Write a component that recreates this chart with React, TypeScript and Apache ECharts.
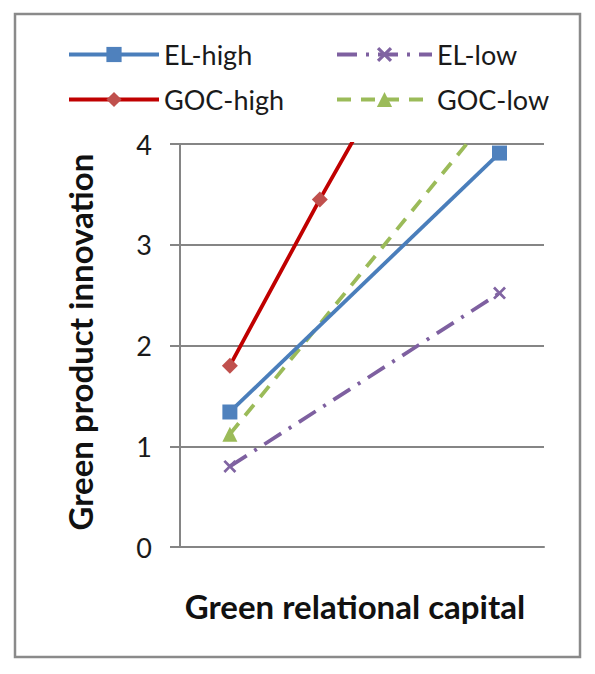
import React, { useEffect, useRef } from "react";
import * as echarts from "echarts";

const seriesNames = ["EL-high", "EL-low", "GOC-high", "GOC-low"];
// x positions: -1 = low green relational capital, 1 = high
const elHigh: [number, number][] = [[-1, 1.34], [1, 3.91]];
const elLow: [number, number][] = [[-1, 0.8], [1, 2.52]];
const gocHigh: [number, number][] = [[-1, 1.8], [-0.333, 3.45], [1, 6.6]];
const gocLow: [number, number][] = [[-1, 1.12], [1, 4.4]];
const yTicks = [0, 1, 2, 3, 4];

const xTitle = "Green relational capital";
const yTitle = "Green product innovation";

const FONT = "Lato, 'Open Sans', sans-serif";
const CROSS =
  "path://M0,1.5L1.5,0L5,3.5L8.5,0L10,1.5L6.5,5L10,8.5L8.5,10L5,6.5L1.5,10L0,8.5L3.5,5Z";

export default function App() {
  const ref = useRef<HTMLDivElement>(null);
  useEffect(() => {
    if (!ref.current) return;
    const chart = echarts.init(ref.current, undefined, { renderer: "svg" });
    const legendBase = {
      orient: "horizontal",
      padding: 0,
      itemWidth: 90,
      itemHeight: 19,
      itemGap: 0,
      lineStyle: { width: 4 },
      textStyle: { fontFamily: FONT, fontSize: 27, color: "#1a1a1a" },
    };
    chart.setOption({
      animation: false,
      backgroundColor: "#ffffff",
      legend: [
        { ...legendBase, data: [seriesNames[0]], left: 67, top: 41 },
        { ...legendBase, data: [seriesNames[1]], left: 335, itemWidth: 95, top: 41 },
        { ...legendBase, data: [seriesNames[2]], left: 67, top: 86 },
        { ...legendBase, data: [seriesNames[3]], left: 335, itemWidth: 95, top: 86 },
      ],
      grid: { left: 180, right: 51, top: 144, bottom: 127, containLabel: false },
      xAxis: {
        type: "value",
        min: -1.37,
        max: 1.33,
        axisLine: { show: true, onZero: false, lineStyle: { color: "#858585", width: 2 } },
        axisTick: { show: false },
        axisLabel: { show: false },
        splitLine: { show: false },
      },
      yAxis: {
        type: "value",
        min: 0,
        max: 4,
        interval: 1,
        axisLine: { show: true, onZero: false, lineStyle: { color: "#858585", width: 2 } },
        axisTick: { show: true, length: 10, lineStyle: { color: "#858585", width: 2 } },
        axisLabel: {
          margin: 28,
          fontFamily: FONT,
          fontSize: 27,
          color: "#1a1a1a",
          formatter: (v: number) => (yTicks.includes(v) ? String(v) : ""),
        },
        splitLine: { show: true, lineStyle: { color: "#858585", width: 2 } },
      },
      graphic: [
        {
          type: "rect",
          shape: { x: 15, y: 14, width: 565, height: 643 },
          style: { fill: "none", stroke: "#8a8a8a", lineWidth: 2.5 },
          silent: true,
        },
        {
          type: "text",
          x: 355,
          y: 606,
          style: {
            text: xTitle,
            fontFamily: FONT,
            fontWeight: "bold",
            fontSize: 33,
            fill: "#111",
            align: "center",
            verticalAlign: "middle",
          },
        },
        {
          type: "text",
          x: 80,
          y: 342,
          rotation: Math.PI / 2,
          style: {
            text: yTitle,
            fontFamily: FONT,
            fontWeight: "bold",
            fontSize: 33,
            fill: "#111",
            align: "center",
            verticalAlign: "middle",
          },
        },
      ],
      series: [
        {
          name: seriesNames[0],
          type: "line",
          data: elHigh,
          symbol: "rect",
          symbolSize: 15,
          itemStyle: { color: "#4f81bd" },
          lineStyle: { color: "#4a7ebb", width: 3.8 },
          clip: true,
          z: 3,
        },
        {
          name: seriesNames[1],
          type: "line",
          data: elLow,
          symbol: CROSS,
          symbolSize: 13,
          itemStyle: { color: "#8064a2" },
          lineStyle: { color: "#7e60a0", width: 3.8, type: [20, 9, 3, 9] },
          clip: true,
          z: 2,
        },
        {
          name: seriesNames[2],
          type: "line",
          data: gocHigh,
          symbol: "diamond",
          symbolSize: 16,
          itemStyle: { color: "#c0504d" },
          lineStyle: { color: "#c00000", width: 3.8 },
          clip: true,
          z: 4,
        },
        {
          name: seriesNames[3],
          type: "line",
          data: gocLow,
          symbol: "triangle",
          symbolSize: 15,
          itemStyle: { color: "#9bbb59" },
          lineStyle: { color: "#9bbb59", width: 3.8, type: [14, 10] },
          clip: true,
          z: 2,
        },
      ],
    });
    return () => chart.dispose();
  }, []);
  return (
    <div
      ref={ref}
      style={{ position: "fixed", left: 0, top: 0, width: 595, height: 674 }}
    />
  );
}
